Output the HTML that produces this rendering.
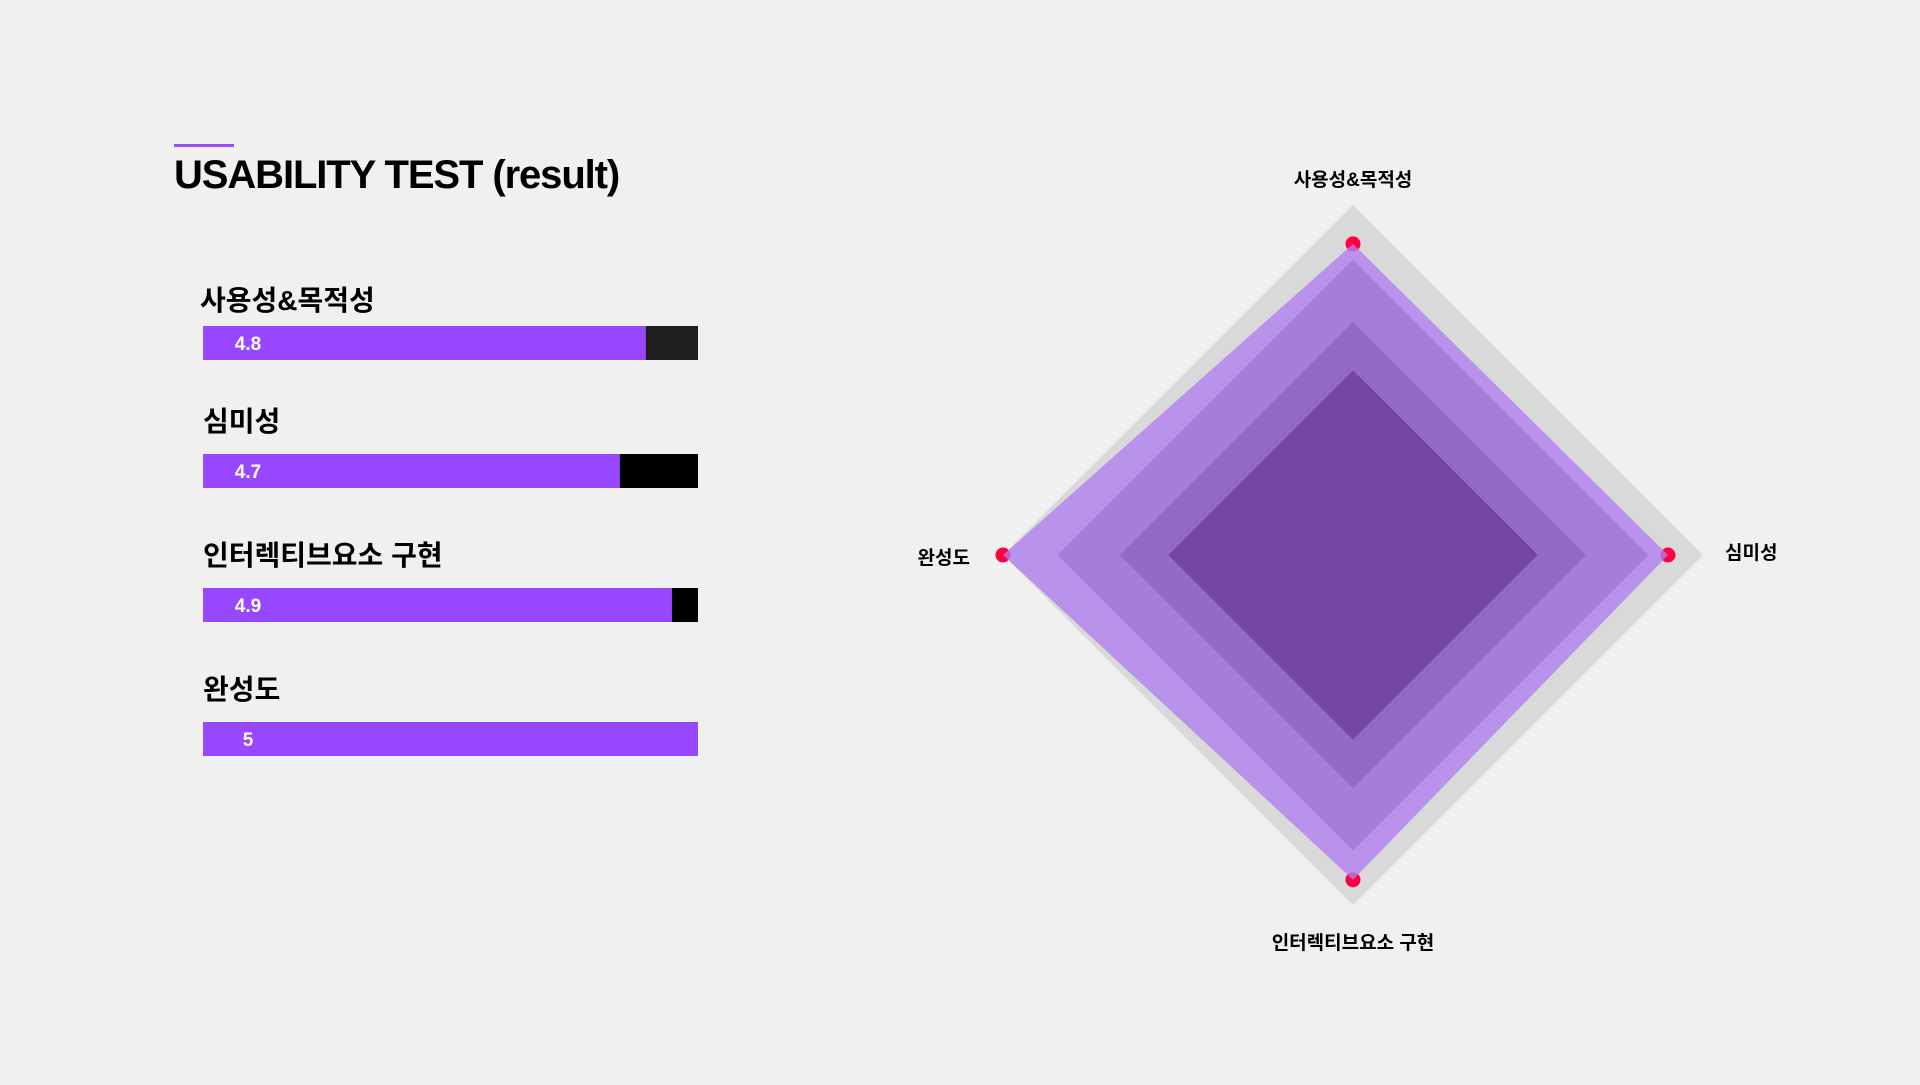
<!DOCTYPE html>
<html><head><meta charset="utf-8"><style>
html,body{margin:0;padding:0;background:#f0f0f0;}
body{width:1920px;height:1080px;overflow:hidden;font-family:"Liberation Sans","Noto Sans CJK KR",sans-serif;}
</style></head><body>
<svg id="chart" width="1920" height="1080" xmlns="http://www.w3.org/2000/svg" style="font-family:'Liberation Sans','Noto Sans CJK KR',sans-serif">
<rect x="174" y="144" width="60" height="3" fill="#9b4dff"/>
<text x="174" y="188" font-size="40" font-weight="bold" letter-spacing="-1.1" fill="#000">USABILITY TEST (result)</text>
<g id="bars"></g>
<g id="radar"></g>
</svg>
<script>
const categories = ["사용성&목적성", "심미성", "인터렉티브요소 구현", "완성도"];
const scores = [4.8, 4.7, 4.9, 5];
const scoreLabels = ["4.8", "4.7", "4.9", "5"];
const radarScores = [4.8, 4.82, 4.87, 5];
const ringTicks = [5.0, 4.72, 4.4, 4.15];
const radarLabels = ["사용성&목적성", "심미성", "인터렉티브요소 구현", "완성도"];

const NS = "http://www.w3.org/2000/svg";
function barFrac(v){ return (v - 3.1) / (5 - 3.1); }
function radFrac(v){ return (v - 3.2) / (5 - 3.2); }
function mk(tag, attrs, parent){ const e = document.createElementNS(NS, tag); for (const k in attrs) e.setAttribute(k, attrs[k]); parent.appendChild(e); return e; }

// bars
const bars = document.getElementById('bars');
const BX = 203, BW = 495, BH = 34;
const barTops = [326, 454, 588, 722];
const labelYs = [310, 431, 565, 699];
const remColors = ["#1e1e1e", "#000", "#000", "#000"];
categories.forEach((c, i) => {
  const y = barTops[i];
  const lab = mk('text', {x: i === 0 ? 200 : 203, y: labelYs[i], 'font-size': 28, 'font-weight': 'bold', fill: '#000'}, bars);
  
  
  lab.textContent = c;
  const bg = mk('rect', {x: BX, y: y, width: BW, height: BH, fill: remColors[i]}, bars);
  
  
  const fg = mk('rect', {x: BX, y: y, width: BW * barFrac(scores[i]), height: BH, fill: '#9747ff'}, bars);
  
  
  const t = mk('text', {x: 248, y: y + 24, 'font-size': 19, 'font-weight': 'bold', fill: '#fff', 'text-anchor': 'middle'}, bars);
  
  
  t.textContent = scoreLabels[i];
});

// radar
const radar = document.getElementById('radar');
const CX = 1353, CY = 555, R = 350;
const angles = [-Math.PI/2, 0, Math.PI/2, Math.PI];
function pt(i, r){ return [CX + r * Math.cos(angles[i]), CY + r * Math.sin(angles[i])]; }
function poly(rs){ return rs.map((r, i) => pt(i, r).join(',')).join(' '); }
const outer = mk('polygon', {points: poly([R, R, R, R]), fill: '#d9d9d9'}, radar);


const dataRs = radarScores.map(v => R * radFrac(v));
radarScores.forEach((v, i) => {
  const p = pt(i, dataRs[i]);
  const d = mk('circle', {cx: p[0], cy: p[1], r: 7.5, fill: '#ff0040'}, radar);
  
  
});
const dp = mk('polygon', {points: poly(dataRs), fill: '#b07ef0', 'fill-opacity': 0.78}, radar);


const ringColors = ["none", "#a67dd8", "#946ac6", "#7347a3"];
ringTicks.forEach((v, k) => {
  if (k === 0) return;
  const r = R * radFrac(v);
  const g = mk('polygon', {points: poly([r, r, r, r]), fill: ringColors[k]}, radar);
  
  
});
const labPos = [[1353, 186, 'middle'], [1725, 559, 'start'], [1353, 949, 'middle'], [970, 564, 'end']];
radarLabels.forEach((l, i) => {
  const t = mk('text', {x: labPos[i][0], y: labPos[i][1], 'font-size': 19, 'font-weight': 'bold', fill: '#000', 'text-anchor': labPos[i][2]}, radar);
  
  
  t.textContent = l;
});
</script>
</body></html>
